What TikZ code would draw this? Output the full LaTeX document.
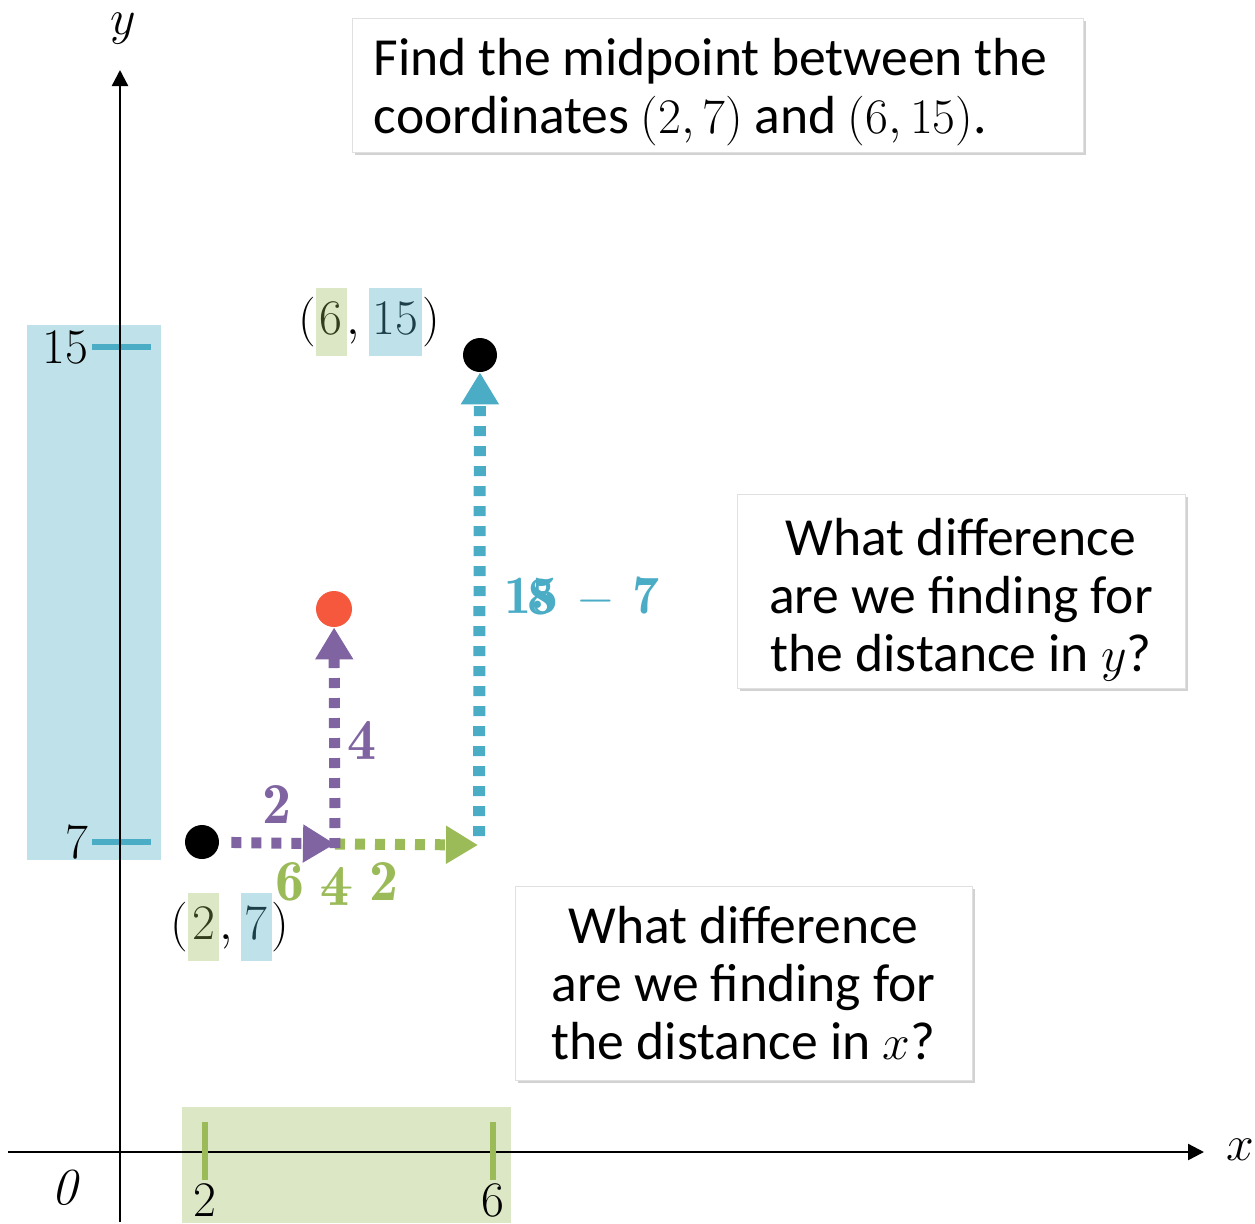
\documentclass[tikz,border=0pt]{standalone}
\usepackage{fontspec}
\setmainfont{Carlito}
\usepackage{tikz}
\usetikzlibrary{arrows.meta,positioning,shadows}
\definecolor{sea}{HTML}{4BACC6}
\definecolor{seapale}{HTML}{BFE2EA}
\definecolor{seadark}{HTML}{1D3E48}
\definecolor{leaf}{HTML}{9BBB59}
\definecolor{leafpale}{HTML}{DCE7C6}
\definecolor{leafdark}{HTML}{323D1E}
\definecolor{plum}{HTML}{8064A2}
\definecolor{flame}{HTML}{F5583C}
\newcommand{\numfont}{\fontsize{26}{30}\selectfont}
\newcommand{\boxfont}{\fontsize{26.8}{29}\selectfont}
\newcommand{\bnum}[1]{{\fontfamily{lmr}\bfseries #1}}
\newcommand{\hl}[2]{{\setlength{\fboxsep}{2pt}\colorbox{#1}{\strut$#2$}}}

\begin{document}
\begin{tikzpicture}[x=0.5pt,y=-0.5pt,
  dot/.style={circle,fill=black,minimum size=17pt,inner sep=0pt},
  qbox/.style={fill=white,draw=black!12,line width=0.4pt,inner sep=0pt,font=\boxfont,
    drop shadow={shadow xshift=1.5pt,shadow yshift=-1.5pt,opacity=0.35}},
  hop/.style={line width=5.5pt,dash pattern=on 5pt off 5pt,-{Triangle[length=16pt,width=18pt]}},
  axis/.style={line width=1.2pt,-{Triangle[length=8pt,width=8pt]}},
  lab/.style={font=\numfont,inner sep=0pt},
  diff/.style={font=\fontsize{29}{30}\selectfont,inner sep=0pt}]
  \useasboundingbox (0,0) rectangle (1255,1223);
  \fill[white] (0,0) rectangle (1255,1223);
  % shaded ranges
  \fill[seapale] (27,325) rectangle (161,860);
  \fill[leafpale] (182,1107) rectangle (511,1223);
  % y ticks
  \foreach \yy/\lab in {347/15,842/7}{
    \draw[sea,line width=3pt] (92,\yy) -- (151,\yy);
    \node[lab,anchor=east] (ylab\lab) at (89,\yy) {$\lab$};}
  % axes
  \coordinate (xfrom) at (8,1152);
  \coordinate (xto) at (1204,1152);
  \coordinate (yfrom) at (120,1222);
  \coordinate (yto) at (120,70);
  \draw[axis] (xfrom) -- (xto);
  \draw[axis] (yfrom) -- (yto);
  \node[lab,font=\fontsize{28}{30}\selectfont] (xname) at (1240,1150) {$x$};
  \node[lab,font=\fontsize{28}{30}\selectfont] (yname) at (123,29) {$y$};
  \node[lab] (origin) at (65,1188) {{\fontfamily{lmr}\itshape 0}};
  % x ticks
  \foreach \xx/\lab in {205/2,493/6}{
    \draw[leaf,line width=3pt] (\xx,1122) -- (\xx,1180);
    \node[lab] (xlab\lab) at (\xx,1200) {$\lab$};}
  % points
  \node[dot] (p1) at (202,842) {};
  \node[dot] (p2) at (480,355) {};
  \node[dot,fill=flame,minimum size=18pt] (mid) at (334,609) {};
  \node[lab,font=\fontsize{28}{30}\selectfont] (p1name) at (230,927) {$(\hl{leafpale}{\color{leafdark}2},\hl{seapale}{\color{seadark}7})$};
  \node[lab,font=\fontsize{28}{30}\selectfont] (p2name) at (369,322) {$(\hl{leafpale}{\color{leafdark}6},\hl{seapale}{\color{seadark}15})$};
  % steps
  \coordinate (corner) at (335,844);
  \coordinate (gend) at (478,845);
  \coordinate (bstart) at (479,836);
  \draw[hop,leaf] (corner) -- (gend);
  \draw[hop,sea,line width=6pt] (bstart) -- (p2);
  \draw[hop,plum,shorten <=6pt] (p1) -- (corner);
  \draw[hop,plum] ([yshift=-2pt]corner) -- (mid);
  % differences
  \node[diff,text=plum] (dx) at (277,804) {\bnum{2}};
  \node[diff,text=plum] (dy) at (362,740) {\bnum{4}};
  \node[diff,text=leaf] (dxsum) at (337,884) {\bnum{6\hspace{0.22em}$-$\hspace{0.22em}2}};
  \node[diff,text=leaf] (dxres) at (335,886) {\bnum{4}};
  \node[lab,text=sea,font=\fontsize{27}{30}\selectfont] (dysum) at (582,597) {\bnum{15 $-$ 7}};
  \node[lab,text=sea,font=\fontsize{27}{30}\selectfont] (dyres) at (541,597) {\bnum{8}};
  % questions
  \node[qbox,anchor=west,minimum height=67pt,text width=344pt,inner xsep=10.75pt,align=left] (task) at (352,85)
    {\spaceskip=0.21em plus 0.05em\rule{0pt}{26pt}Find the midpoint between the\\coordinates $(2,7)$ and $(6,15)$.};
  \node[qbox,minimum width=224pt,minimum height=97pt,align=center] (asky) at (961,591)
    {\rule{0pt}{27pt}What difference\\are we finding for\\the distance in $y$?};
  \node[qbox,minimum width=228.5pt,minimum height=97pt,align=center] (askx) at (743.5,983)
    {What difference\\are we finding for\\the distance in $x$?};
\end{tikzpicture}
\end{document}
